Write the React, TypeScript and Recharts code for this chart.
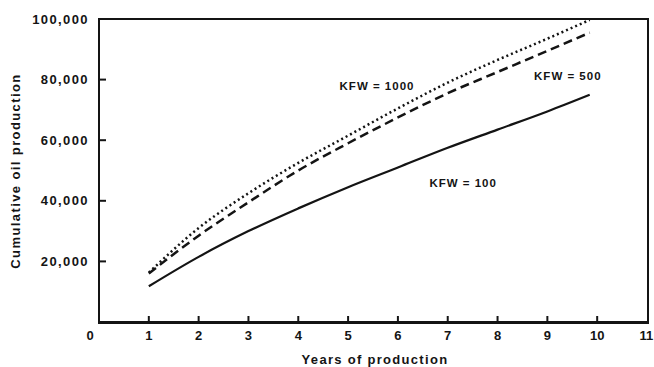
import React from 'react';
import { LineChart, Line, XAxis, YAxis, ReferenceDot, Label } from 'recharts';

// years of production
const years = [1, 2, 3, 4, 5, 6, 7, 8, 9, 9.85];

// cumulative oil production for each KFW value
const kfw1000 = [16300, 31000, 42500, 52500, 61500, 70500, 79000, 86500, 93500, 99700];
const kfw500 = [16000, 28500, 39500, 50000, 59000, 67500, 75500, 82500, 89500, 95500];
const kfw100 = [11800, 21500, 30000, 37500, 44500, 51000, 57500, 63500, 69500, 75000];

const xTicks = [0, 1, 2, 3, 4, 5, 6, 7, 8, 9, 10, 11];
const yTicks = [20000, 40000, 60000, 80000, 100000];

// curve captions, placed in data coordinates
const captions = [
  { text: 'KFW = 1000', x: 5.58, y: 78000 },
  { text: 'KFW = 500', x: 9.41, y: 81200 },
  { text: 'KFW = 100', x: 7.31, y: 45900 },
];

const data = years.map((x, i) => ({
  x,
  k1000: kfw1000[i],
  k500: kfw500[i],
  k100: kfw100[i],
}));

const FONT = '"Liberation Sans", Arial, sans-serif';
const INK = '#141414';
const GAP = 9;

// bottom ticks: short mark pointing into the plot, number below
const XTick = (props: any) => {
  const { x, y, payload } = props;
  const v = payload.value;
  const axisY = y - GAP;
  return (
    <g>
      {v > 0 && v < 11 && (
        <path d={`M${x},${axisY} L${x},${axisY - 6}`} stroke={INK} strokeWidth={2} fill="none" />
      )}
      <text
        x={v === 0 ? x - 9 : x}
        y={y}
        dy="0.71em"
        textAnchor="middle"
        fontFamily={FONT}
        fontWeight="bold"
        fontSize={13}
        fill={INK}
      >
        {v}
      </text>
    </g>
  );
};

// left ticks: mark pointing into the plot, value to the left
const YTick = (props: any) => {
  const { x, y, payload } = props;
  const axisX = x + GAP;
  return (
    <g>
      <path d={`M${axisX},${y} L${axisX + 7},${y}`} stroke={INK} strokeWidth={2} fill="none" />
      <text
        x={x - 1}
        y={y}
        dy="0.35em"
        textAnchor="end"
        fontFamily={FONT}
        fontWeight="bold"
        fontSize={13}
        letterSpacing={1.4}
        fill={INK}
      >
        {payload.value.toLocaleString('en-US')}
      </text>
    </g>
  );
};

export default function App() {
  return (
    <div style={{ position: 'absolute', left: 0, top: 0, width: 654, height: 367, background: '#fff' }}>
      <LineChart width={654} height={367} data={data} margin={{ top: 19, right: 7, bottom: 0, left: 0 }}>
        <XAxis
          dataKey="x"
          type="number"
          domain={[0, 11]}
          ticks={xTicks}
          tickSize={0}
          tickMargin={GAP}
          tickLine={false}
          tick={<XTick />}
          height={45}
          stroke={INK}
          strokeWidth={2}
        >
          <Label
            content={() => (
              <text
                x={375}
                y={364}
                textAnchor="middle"
                fontFamily={FONT}
                fontWeight="bold"
                fontSize={13}
                letterSpacing={1.3}
                fill={INK}
              >
                Years of production
              </text>
            )}
          />
        </XAxis>
        <YAxis
          type="number"
          domain={[0, 100000]}
          ticks={yTicks}
          tickSize={0}
          tickMargin={GAP}
          tickLine={false}
          tick={<YTick />}
          width={99}
          stroke={INK}
          strokeWidth={2}
        >
          <Label
            content={() => (
              <text
                x={20}
                y={171}
                transform="rotate(-90 20 171)"
                textAnchor="middle"
                fontFamily={FONT}
                fontWeight="bold"
                fontSize={13}
                letterSpacing={1.4}
                fill={INK}
              >
                Cumulative oil production
              </text>
            )}
          />
        </YAxis>
        <Line dataKey="k1000" type="monotone" stroke={INK} strokeWidth={2.5} strokeDasharray="2 3" dot={false} isAnimationActive={false} />
        <Line dataKey="k500" type="monotone" stroke={INK} strokeWidth={2.5} strokeDasharray="9 5" dot={false} isAnimationActive={false} />
        <Line dataKey="k100" type="monotone" stroke={INK} strokeWidth={2.2} dot={false} isAnimationActive={false} />
        {captions.map((c) => (
          <ReferenceDot
            key={c.text}
            x={c.x}
            y={c.y}
            r={0}
            stroke="none"
            label={{ value: c.text, position: 'center', fontFamily: FONT, fontWeight: 'bold', fontSize: 11.5, letterSpacing: 1, fill: INK }}
          />
        ))}
      </LineChart>
      {/* box around the plot area */}
      <div
        style={{
          position: 'absolute',
          left: 98,
          top: 18,
          width: 551,
          height: 306,
          boxSizing: 'border-box',
          border: `2px solid ${INK}`,
          pointerEvents: 'none',
        }}
      />
    </div>
  );
}
